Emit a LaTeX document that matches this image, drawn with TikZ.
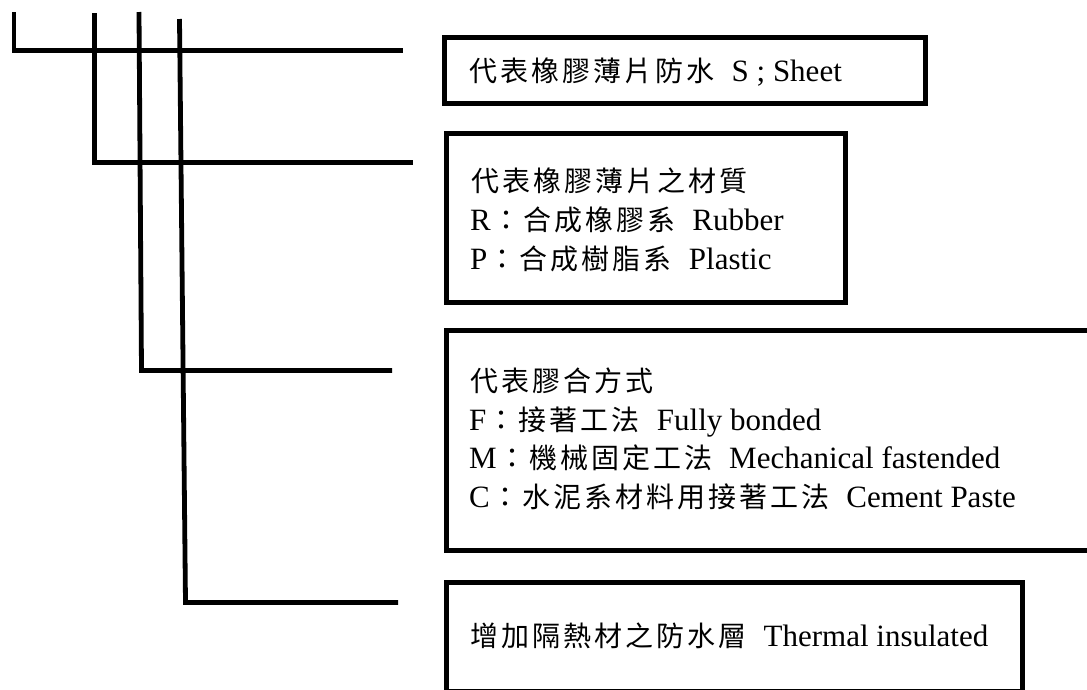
\documentclass[tikz,border=0pt]{standalone}
\usepackage{fontspec}
\setmainfont{Liberation Serif}
\newfontfamily\cjkf[LetterSpace=10.7]{Noto Sans CJK TC}
\newcommand\zh[1]{\hspace*{1.5pt}{\cjkf\fontsize{28}{28}\selectfont #1}}
\newcommand\gapz{\hspace*{17pt}}
\tikzset{
  leader/.style={line width=4.8pt, line cap=butt, line join=miter},
  infobox/.style={draw, line width=5pt, rectangle, inner sep=0pt},
  txt/.style={anchor=base west, inner sep=0pt, font=\fontsize{31}{38}\selectfont},
}
\begin{document}
\begin{tikzpicture}[x=1pt,y=-1pt]
\useasboundingbox (0,0) rectangle (1087,689);
\clip (0,0) rectangle (1087,689);
\fill[white] (0,0) rectangle (1087,689);

% leader lines
\coordinate (a0) at (14,12);   \coordinate (a1) at (14,50.5);   \coordinate (a2) at (403,50.5);
\coordinate (b0) at (94.5,13); \coordinate (b1) at (94.5,162.5); \coordinate (b2) at (413,162.5);
\coordinate (c0) at (139,12);  \coordinate (c1) at (141.5,370.5); \coordinate (c2) at (392,370.5);
\coordinate (d0) at (179.5,19); \coordinate (d1) at (185.5,602.5); \coordinate (d2) at (398,602.5);
\draw[leader] (a0) -- (a1) -- (a2);
\draw[leader] (b0) -- (b1) -- (b2);
\draw[leader] (c0) -- (c1) -- (c2);
\draw[leader] (d0) -- (d1) -- (d2);

% boxes
\node[infobox, minimum width=481pt, minimum height=66pt] (box1) at (685,70) {};
\node[infobox, minimum width=399.5pt, minimum height=169.5pt] (box2) at (646,217.75) {};
\node[infobox, minimum width=660pt, minimum height=220pt] (box3) at (776,440.25) {};
\node[infobox, minimum width=576pt, minimum height=109pt] (box4) at (734,636.5) {};

% texts
\node[txt] (t1) at (468,81) {\zh{代表橡膠薄片防水}\gapz S ; Sheet};

\node[txt] (t2a) at (470,191) {\zh{代表橡膠薄片之材質}};
\node[txt] (t2b) at (470,230) {R\zh{：合成橡膠系}\gapz Rubber};
\node[txt] (t2c) at (470,269) {P\zh{：合成樹脂系}\gapz Plastic};

\node[txt] (t3a) at (469,391) {\zh{代表膠合方式}};
\node[txt] (t3b) at (469,430) {F\zh{：接著工法}\gapz Fully bonded};
\node[txt] (t3c) at (469,468) {M\zh{：機械固定工法}\gapz Mechanical fastended};
\node[txt] (t3d) at (469,507) {C\zh{：水泥系材料用接著工法}\gapz Cement Paste};

\node[txt] (t4) at (469,646) {\zh{增加隔熱材之防水層}\gapz Thermal insulated};
\end{tikzpicture}
\end{document}
